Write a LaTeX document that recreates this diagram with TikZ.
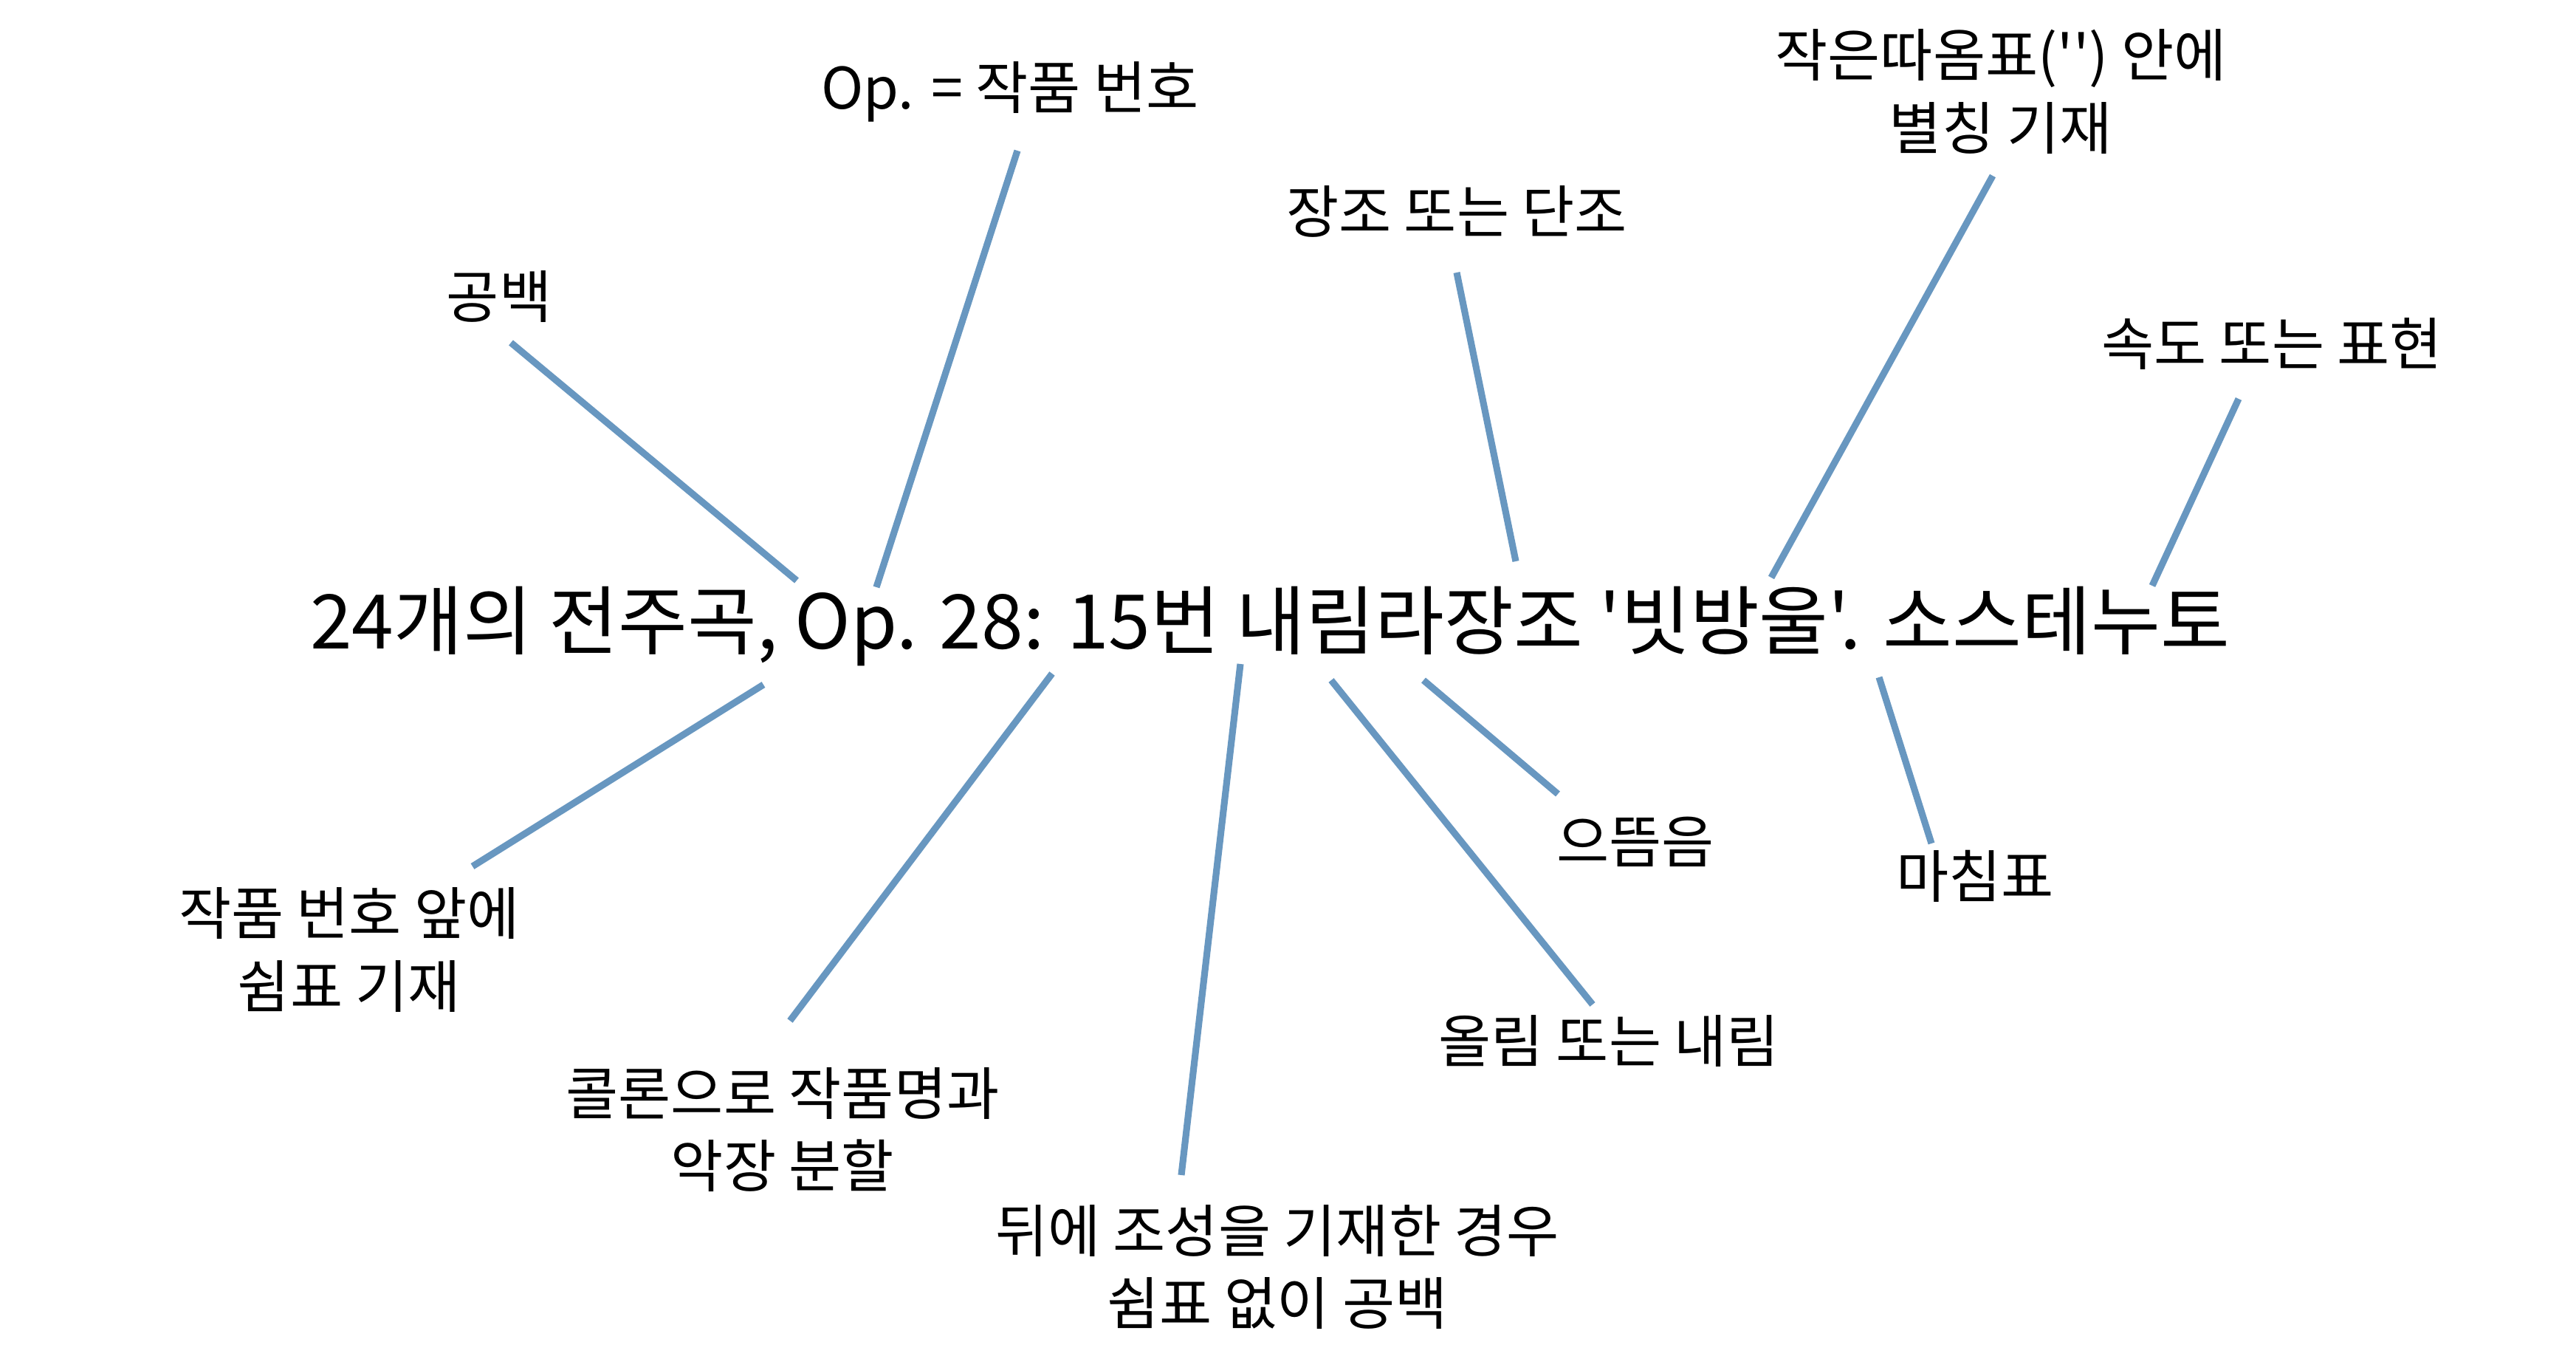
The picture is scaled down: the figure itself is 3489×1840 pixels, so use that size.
\documentclass[tikz,border=0pt]{standalone}
\usepackage{fontspec}
\setmainfont{Noto Sans CJK KR}[Ligatures=TeXOff]
\definecolor{linkblue}{RGB}{104,151,192}

\begin{document}
\begin{tikzpicture}[x=0.01cm,y=-0.01cm,
  lbl/.style={align=center,inner sep=0pt,font=\fontsize{22}{27.9}\selectfont},
  link/.style={draw=linkblue,line width=2.6pt}]
      \useasboundingbox (0,0) rectangle (3489,1840);

      \node[inner sep=0pt,font=\fontsize{29}{35}\selectfont] (title) at (1720,848) {24개의 전주곡, Op. 28: 15번 내림라장조 '빗방울'. 소스테누토};

      \node[lbl] (opnum) at (1368,124) {Op. = 작품 번호};
      \node[lbl] (gongbaek) at (676,402) {공백};
      \node[lbl] (mode) at (1973,286) {장조 또는 단조};
      \node[lbl] (alias) at (2710,124) {작은따옴표('') 안에\\별칭 기재};
      \node[lbl] (tempo) at (3077,466) {속도 또는 표현};
      \node[lbl] (comma) at (473,1286) {작품 번호 앞에\\쉼표 기재};
      \node[lbl] (colon) at (1060,1530) {콜론으로 작품명과\\악장 분할};
      \node[lbl] (space) at (1730,1716) {뒤에 조성을 기재한 경우\\쉼표 없이 공백};
      \node[lbl] (tonic) at (2215,1140) {으뜸음};
      \node[lbl] (stop) at (2675,1186) {마침표};
      \node[lbl] (accid) at (2179,1410) {올림 또는 내림};

      \coordinate (opnum-a) at (1378,204);
      \coordinate (opnum-b) at (1187,795);
      \coordinate (gongbaek-a) at (692,464);
      \coordinate (gongbaek-b) at (1079,786);
      \coordinate (mode-a) at (1973,369);
      \coordinate (mode-b) at (2053,760);
      \coordinate (alias-a) at (2699,238);
      \coordinate (alias-b) at (2399,782);
      \coordinate (tempo-a) at (3032,540);
      \coordinate (tempo-b) at (2915,793);
      \coordinate (comma-a) at (640,1173);
      \coordinate (comma-b) at (1034,927);
      \coordinate (colon-a) at (1070,1382);
      \coordinate (colon-b) at (1425,912);
      \coordinate (space-a) at (1600,1591);
      \coordinate (space-b) at (1680,899);
      \coordinate (tonic-a) at (2110,1075);
      \coordinate (tonic-b) at (1928,921);
      \coordinate (stop-a) at (2616,1142);
      \coordinate (stop-b) at (2545,917);
      \coordinate (accid-a) at (2157,1360);
      \coordinate (accid-b) at (1803,921);

      \foreach \n in {opnum,gongbaek,mode,alias,tempo,comma,colon,space,tonic,stop,accid}
        \draw[link] (\n-a) -- (\n-b);
    \end{tikzpicture}
\end{document}
